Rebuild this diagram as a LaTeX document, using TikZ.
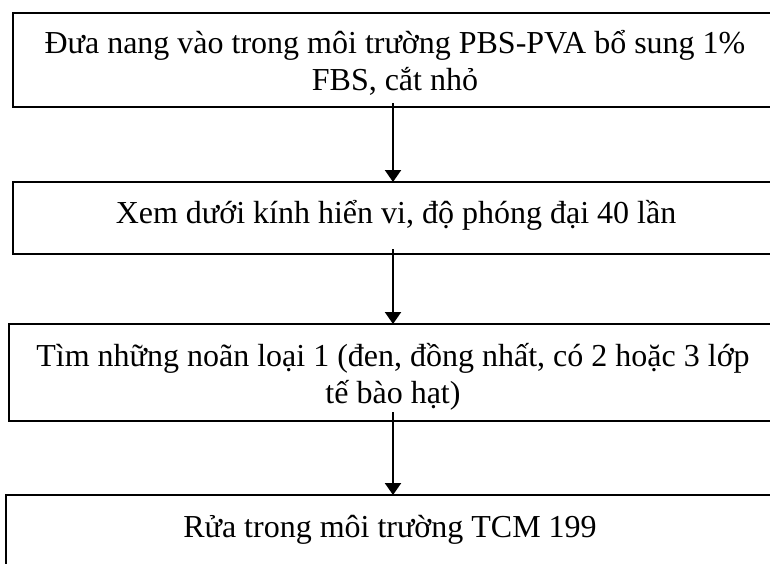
\documentclass[tikz,border=0pt]{standalone}
\usepackage{fontspec}
\setmainfont{Liberation Serif}
\usetikzlibrary{arrows.meta}
\begin{document}
\begin{tikzpicture}[x=1pt,y=-1pt,
  stepbox/.style={draw,line width=2pt,rectangle,inner sep=0pt,outer sep=0pt,anchor=north west,minimum width=764pt},
  txt/.style={font=\fontsize{32}{37}\selectfont,align=center,inner sep=0pt,anchor=base},
  flowarrow/.style={line width=2.2pt,-{Triangle[width=16pt,length=12pt]}}]
\useasboundingbox (0,0) rectangle (770,563);
\clip (0,0) rectangle (770,563);
\node[stepbox,minimum height=94pt] (b1) at (13,13) {};
\node[stepbox,minimum height=72pt] (b2) at (13,182) {};
\node[stepbox,minimum height=97pt,minimum width=768pt] (b3) at (9,324) {};
\node[stepbox,minimum height=105pt,minimum width=771pt] (b4) at (6,495) {};
\node[txt] (t1) at (395,90) {Đưa nang vào trong môi trường PBS-PVA bổ sung 1\%\\FBS, cắt nhỏ};
\node[txt] (t2) at (396,223) {Xem dưới kính hiển vi, độ phóng đại 40 lần};
\node[txt] (t3) at (393,403) {Tìm những noãn loại 1 (đen, đồng nhất, có 2 hoặc 3 lớp\\tế bào hạt)};
\node[txt] (t4) at (390,537) {Rửa trong môi trường TCM 199};
\coordinate (a1) at (393,103);
\coordinate (a2) at (393,249);
\coordinate (a3) at (393,412);
\draw[flowarrow] (a1) -- (a1 |- b2.north);
\draw[flowarrow] (a2) -- (a2 |- b3.north);
\draw[flowarrow] (a3) -- (a3 |- b4.north);
\end{tikzpicture}
\end{document}
